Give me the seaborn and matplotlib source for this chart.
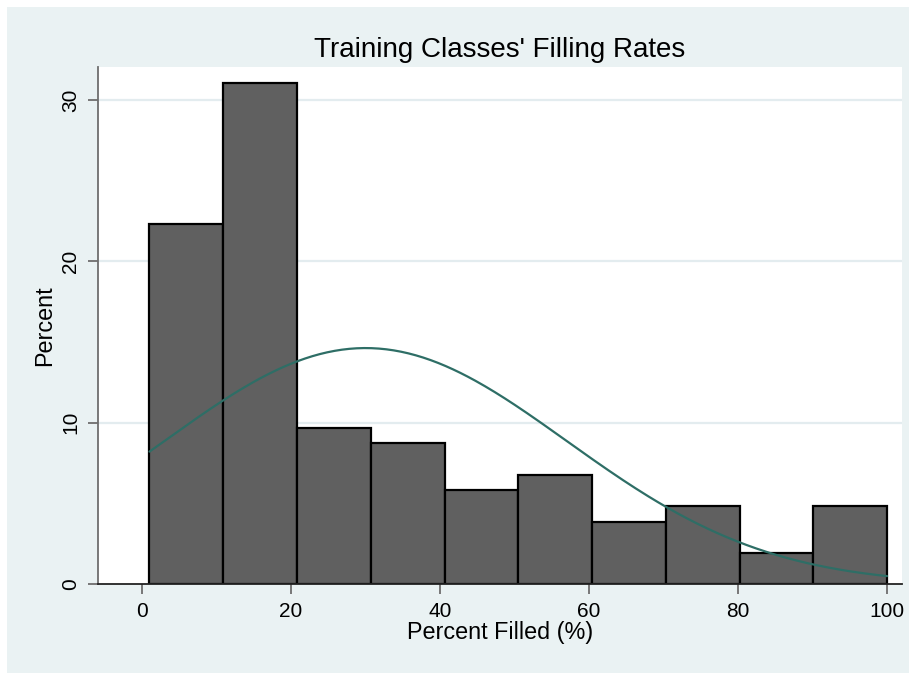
import numpy as np
import pandas as pd
import matplotlib
matplotlib.use("Agg")
import matplotlib.pyplot as plt
from matplotlib.patches import Rectangle
import seaborn as sns

# Histogram bins of class filling rate (%) and number of classes per bin
bin_start = 1.0
bin_width = 9.9
bin_lower = [1.0, 10.9, 20.8, 30.7, 40.6, 50.5, 60.4, 70.3, 80.2, 90.1]
class_counts = [23, 32, 10, 9, 6, 7, 4, 5, 2, 5]

# Normal density overlay parameters
fill_mean = 30.0
fill_sd = 27.0

x_ticks = [0, 20, 40, 60, 80, 100]
y_ticks = [0, 10, 20, 30]

title_text = "Training Classes' Filling Rates"
x_label = "Percent Filled (%)"
y_label = "Percent"

sns.set_theme(style="white")
plt.rcParams["font.family"] = ["Liberation Sans", "DejaVu Sans"]

bg = "#EAF2F3"
fig = plt.figure(figsize=(9.09, 6.73), dpi=100, facecolor="white")
fig.patches.append(Rectangle((7 / 909, 0), 1 - 7 / 909, 1 - 7 / 673,
                             transform=fig.transFigure, facecolor=bg,
                             edgecolor="none", zorder=-10))
ax = fig.add_axes([0.1075, 0.1318, 0.9923 - 0.1075, 0.9004 - 0.1318])
ax.set_facecolor("white")

df = pd.DataFrame({"lower": bin_lower, "count": class_counts})
df["mid"] = df["lower"] + bin_width / 2
edges = list(bin_lower) + [bin_lower[-1] + bin_width]

sns.histplot(data=df, x="mid", weights="count", bins=edges, stat="percent",
             color="#606060", edgecolor="black", linewidth=1.6, alpha=1,
             ax=ax, zorder=3)

# Normal curve scaled to percent-per-bin units
n = sum(class_counts)
xs = np.linspace(edges[0], edges[-1], 300)
pdf = np.exp(-0.5 * ((xs - fill_mean) / fill_sd) ** 2) / (fill_sd * np.sqrt(2 * np.pi))
curve = pd.DataFrame({"x": xs, "y": 100 * bin_width * pdf})
sns.lineplot(data=curve, x="x", y="y", color="#2E6E66", linewidth=1.6,
             ax=ax, zorder=4)

ax.set_xlim(-5.95, 102.0)
ax.set_ylim(0, 32.03)
ax.set_xticks(x_ticks)
ax.set_yticks(y_ticks)
ax.set_yticklabels([str(v) for v in y_ticks], rotation=90, va="center")

for v in y_ticks[1:]:
    ax.axhline(v, color="#E3ECEF", linewidth=1.6, zorder=1)

for side in ["top", "right"]:
    ax.spines[side].set_visible(False)
ax.spines["left"].set_color("#6E6E6E")
ax.spines["left"].set_linewidth(1.3)
ax.spines["bottom"].set_color("#222222")
ax.spines["bottom"].set_linewidth(1.3)
ax.spines["bottom"].set_zorder(5)

ax.tick_params(axis="both", which="major", direction="out", length=7,
               width=1.3, color="#6E6E6E", labelsize=15, labelcolor="black",
               left=True, bottom=True)
ax.tick_params(axis="y", pad=5.5)
ax.tick_params(axis="x", pad=6)

ax.set_xlabel(x_label, fontsize=16.8, color="black", labelpad=0)
ax.set_ylabel(y_label, fontsize=16.8, color="black", labelpad=4)
ax.set_title(title_text, fontsize=20, color="black", pad=7)

fig.savefig("out.png", dpi=100, facecolor=fig.get_facecolor())
